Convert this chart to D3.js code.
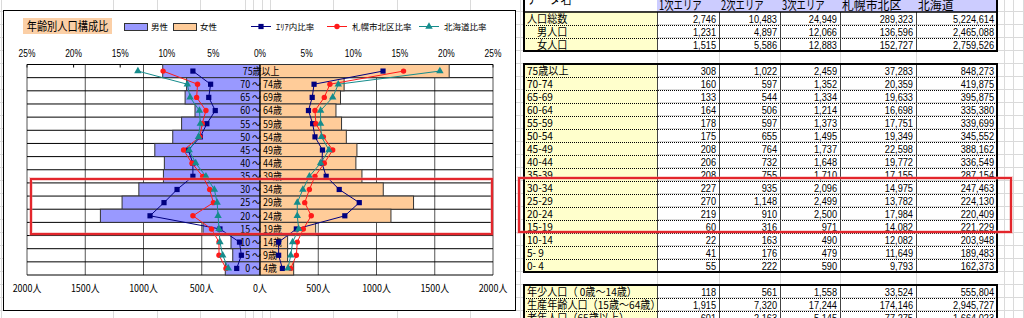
<!DOCTYPE html>
<html>
<head>
<meta charset="utf-8">
<script src="https://cdn.jsdelivr.net/npm/d3@7"></script>
<style>
    html, body { margin: 0; padding: 0; background: #fff; }
    svg { display: block; }
</style>
</head>
<body>
<svg id="sheet" width="1024" height="318"></svg>
<script>
// chart data (3次エリア counts, share of each sex in %)
const ageGroups = ['75歳以上', '70 ～ 74歳', '65 ～ 69歳', '60 ～ 64歳', '55 ～ 59歳', '50 ～ 54歳', '45 ～ 49歳',
    '40 ～ 44歳', '35 ～ 39歳', '30 ～ 34歳', '25 ～ 29歳', '20 ～ 24歳', '15 ～ 19歳', '10 ～ 14歳', '5 ～ 9歳', '0 ～ 4歳'];
const maleCount = [835, 630, 643, 558, 673, 749, 903, 821, 829, 1040, 1184, 1370, 489, 249, 234, 298];
const femaleCount = [1624, 722, 691, 652, 700, 741, 832, 823, 875, 1058, 1318, 1124, 478, 237, 237, 289];
const areaMale = [7.2, 5.3, 5.5, 4.8, 5.7, 6.4, 7.7, 7.2, 7.2, 8.9, 10.3, 11.8, 4.3, 2.2, 2.0, 2.5];
const areaFemale = [13.2, 5.8, 5.6, 5.2, 5.65, 5.9, 6.7, 6.65, 7.1, 8.5, 10.65, 9.1, 3.9, 2.0, 2.0, 2.4];
const kitaMale = [10.4, 6.7, 6.8, 5.8, 6.2, 6.45, 8.2, 7.3, 6.15, 5.4, 5.0, 7.2, 5.2, 4.4, 4.4, 3.65];
const kitaFemale = [15.4, 7.5, 6.9, 5.9, 6.0, 6.8, 7.8, 6.9, 5.9, 5.3, 4.8, 5.5, 4.65, 4.0, 3.9, 3.3];
const hokkaidoMale = [13.1, 7.8, 7.5, 6.5, 6.4, 6.6, 7.6, 6.9, 5.8, 4.9, 4.6, 4.5, 4.4, 4.3, 4.0, 3.4];
const hokkaidoFemale = [19.3, 8.4, 7.8, 6.5, 6.5, 6.6, 7.4, 6.5, 5.3, 4.6, 4.0, 4.0, 4.15, 3.5, 3.3, 3.0];
const pctTicks = [-25, -20, -15, -10, -5, 0, 5, 10, 15, 20, 25];
const countTicks = [-2000, -1500, -1000, -500, 0, 500, 1000, 1500, 2000];

// table data
const tableHeaders = ['データ名', '1次エリア', '2次エリア', '3次エリア', '札幌市北区', '北海道'];
const totalLabels = ['人口総数', '　男人口', '　女人口'];
const ageLabels = ['75歳以上', '70-74', '65-69', '60-64', '55-59', '50-54', '45-49', '40-44', '35-39',
    '30-34', '25-29', '20-24', '15-19', '10-14', ' 5- 9', ' 0- 4'];
const groupLabels = ['年少人口（ 0歳～14歳）', '生産年齢人口（15歳～64歳）', '老年人口（65歳以上）'];
const area1 = [2746, 1231, 1515, 308, 160, 133, 164, 178, 175, 208, 206, 208, 227, 270, 219, 60, 22, 41, 55, 118, 1915, 601];
const area2 = [10483, 4897, 5586, 1022, 597, 544, 506, 597, 655, 764, 732, 755, 935, 1148, 910, 316, 163, 176, 222, 561, 7320, 2163];
const area3 = [24949, 12066, 12883, 2459, 1352, 1334, 1214, 1373, 1495, 1737, 1648, 1710, 2096, 2499, 2500, 971, 490, 479, 590, 1558, 17244, 5145];
const kitaWard = [289323, 136596, 152727, 37283, 20359, 19633, 16698, 17751, 19349, 22598, 19772, 17155, 14975, 13782, 17984, 14082, 12082, 11649, 9793, 33524, 174146, 77275];
const hokkaido = [5224614, 2465088, 2759526, 848273, 419875, 395875, 335380, 339699, 345552, 388162, 336549, 287154, 247463, 224130, 220409, 221229, 203948, 189483, 162373, 555804, 2945727, 1664023];

const svg = d3.select('#sheet');
const jp = '"Noto Sans CJK JP", sans-serif';
const num = '"Liberation Sans", Arial, sans-serif';

(function init() {
    drawSheetGrid();
    drawChart();
    drawTable();
})();

function txt(g, x, y, str, size, family, anchor, sx) {
    return g.append('text')
        .attr('transform', `translate(${x},${y}) scale(${sx || 1},1)`)
        .attr('font-size', size)
        .attr('font-family', family)
        .attr('text-anchor', anchor || 'start')
        .attr('fill', '#000')
        .text(str);
}

function drawSheetGrid() {
    const g = svg.append('g').attr('stroke', '#dadada').attr('stroke-width', 1);
    const cols = [1, 113, 157, 200, 245, 253, 262, 270, 333, 397, 470, 520, 657, 719, 780, 840, 916, 1004, 1013, 1023];
    cols.forEach(c => g.append('line').attr('x1', c + 0.5).attr('x2', c + 0.5).attr('y1', 0).attr('y2', 318));
    d3.range(0, 26).forEach(k => g.append('line').attr('x1', 0).attr('x2', 1024)
        .attr('y1', -1.5 + 13 * k).attr('y2', -1.5 + 13 * k));
}

function drawChart() {
    const g = svg.append('g');
    g.append('rect').attr('x', 3.5).attr('y', 10.5).attr('width', 512).attr('height', 300)
        .attr('fill', '#fff').attr('stroke', '#000');

    // title + legend
    g.append('rect').attr('x', 23).attr('y', 18).attr('width', 89).attr('height', 16).attr('fill', '#fbcfa6');
    txt(g, 67.5, 30.5, '年齢別人口構成比', 12, jp, 'middle', 0.85);
    g.append('rect').attr('x', 124.5).attr('y', 23.5).attr('width', 23).attr('height', 7)
        .attr('fill', '#9999ff').attr('stroke', '#333');
    txt(g, 151, 30, '男性', 8.5, jp);
    g.append('rect').attr('x', 173.5).attr('y', 23.5).attr('width', 23).attr('height', 7)
        .attr('fill', '#ffcc99').attr('stroke', '#333');
    txt(g, 200, 30, '女性', 8.5, jp);

    const x = d3.scaleLinear().domain([-2000, 2000]).range([27, 493]);
    const xp = d3.scaleLinear().domain([-25, 25]).range([27, 493]);
    const y = d3.scaleBand().domain(ageGroups).range([64.5, 275]).padding(0);
    const cy = d => y(d) + y.bandwidth() / 2;

    const series = [
        {name: 'ｴﾘｱ内比率', male: areaMale, female: areaFemale, color: '#000080', shape: 'square', lx: 251},
        {name: '札幌市北区比率', male: kitaMale, female: kitaFemale, color: '#ff1a1a', shape: 'circle', lx: 327},
        {name: '北海道比率', male: hokkaidoMale, female: hokkaidoFemale, color: '#158c8c', shape: 'triangle', lx: 419}
    ];

    series.forEach(s => {
        g.append('line').attr('x1', s.lx).attr('x2', s.lx + 20).attr('y1', 26.5).attr('y2', 26.5)
            .attr('stroke', s.color);
        marker(g, s.lx + 10, 26.5, s);
        txt(g, s.lx + 25, 30, s.name, 8.5, jp);
    });

    // axes labels
    pctTicks.forEach(t => {
        txt(g, xp(t), 57, Math.abs(t) + '%', 10.5, num, 'middle', 0.8);
        g.append('line').attr('x1', xp(t)).attr('x2', xp(t)).attr('y1', 64.5).attr('y2', 67.5)
            .attr('stroke', '#000');
    });
    countTicks.forEach(t => txt(g, x(t), 292, Math.abs(t) + '人', 10.5, jp, 'middle', 0.85));

    // grid
    countTicks.forEach(t => g.append('line').attr('x1', x(t)).attr('x2', x(t))
        .attr('y1', 64.5).attr('y2', 275).attr('stroke', '#555'));
    ageGroups.concat([null]).forEach((d, i) => {
        const yy = 64.5 + i * y.bandwidth();
        g.append('line').attr('x1', 27).attr('x2', 493).attr('y1', yy).attr('y2', yy).attr('stroke', '#000');
    });

    // bars
    g.selectAll('.male').data(ageGroups).join('rect')
        .attr('x', (d, i) => x(-maleCount[i])).attr('y', d => y(d))
        .attr('width', (d, i) => x(0) - x(-maleCount[i])).attr('height', y.bandwidth())
        .attr('fill', '#9999ff').attr('stroke', '#333');
    g.selectAll('.female').data(ageGroups).join('rect')
        .attr('x', x(0)).attr('y', d => y(d))
        .attr('width', (d, i) => x(femaleCount[i]) - x(0)).attr('height', y.bandwidth())
        .attr('fill', '#ffcc99').attr('stroke', '#333');
    g.append('line').attr('x1', x(0)).attr('x2', x(0)).attr('y1', 64.5).attr('y2', 275).attr('stroke', '#000');

    ageGroups.forEach(d => txt(g, x(0) + 1, cy(d) + 3.8, d, 10.5, jp, 'middle', 0.85));

    // ratio lines
    series.forEach(s => {
        ['male', 'female'].forEach(side => {
            const sign = side === 'male' ? -1 : 1;
            const line = d3.line().x((v) => xp(sign * v)).y((v, i) => cy(ageGroups[i]));
            g.append('path').attr('d', line(s[side])).attr('fill', 'none').attr('stroke', s.color).attr('stroke-width', 1);
            s[side].forEach((v, i) => marker(g, xp(sign * v), cy(ageGroups[i]), s));
        });
    });

    // red highlight
    highlight(31, 179, 461, 55);
}

function marker(g, mx, my, s) {
    if (s.shape === 'square') {
        g.append('rect').attr('x', mx - 2.6).attr('y', my - 2.6).attr('width', 5.2).attr('height', 5.2).attr('fill', s.color);
    } else if (s.shape === 'circle') {
        g.append('circle').attr('cx', mx).attr('cy', my).attr('r', 2.7).attr('fill', s.color);
    } else {
        g.append('path').attr('d', d3.symbol(d3.symbolTriangle, 24)()).attr('transform', `translate(${mx},${my})`)
            .attr('fill', s.color);
    }
}

function highlight(hx, hy, w, h) {
    svg.append('rect').attr('x', hx).attr('y', hy).attr('width', w).attr('height', h)
        .attr('fill', 'none').attr('stroke', '#f08080').attr('stroke-width', 4).attr('opacity', 0.35);
    svg.append('rect').attr('x', hx).attr('y', hy).attr('width', w).attr('height', h)
        .attr('fill', 'none').attr('stroke', '#e3262c').attr('stroke-width', 2);
}

function drawTable() {
    const g = svg.append('g');
    const cols = [524, 657, 719, 780, 840, 916, 997];
    const rowTop = r => -1 + 13 * r;
    const columns = [area1, area2, area3, kitaWard, hokkaido];

    // header
    g.append('rect').attr('x', cols[1]).attr('y', rowTop(0)).attr('width', cols[6] - cols[1]).attr('height', 13)
        .attr('fill', '#ccccff');
    txt(g, cols[0] + 3, 4, tableHeaders[0], 12, jp, 'start', 0.93);
    tableHeaders.slice(1).forEach((h, i) => txt(g, cols[i + 1] + 2, 9.5, h, 12.5, jp, 'start', i < 3 ? 0.75 : 0.95));

    const sections = [
        {start: 1, labels: totalLabels, offset: 0},
        {start: 5, labels: ageLabels, offset: 3},
        {start: 22, labels: groupLabels, offset: 19}
    ];

    sections.forEach(sec => {
        const top = rowTop(sec.start);
        const h = sec.labels.length * 13;
        g.append('rect').attr('x', cols[0]).attr('y', top).attr('width', cols[1] - cols[0]).attr('height', h)
            .attr('fill', '#ffffcc');
        d3.range(1, sec.labels.length).forEach(k => g.append('line')
            .attr('x1', cols[0]).attr('x2', cols[6]).attr('y1', top + 13 * k + 0.5).attr('y2', top + 13 * k + 0.5)
            .attr('stroke', '#000').attr('stroke-dasharray', '1,1'));
        cols.slice(1, 6).forEach(c => g.append('line').attr('x1', c + 0.5).attr('x2', c + 0.5)
            .attr('y1', top).attr('y2', top + h).attr('stroke', '#444'));
        sec.labels.forEach((l, k) => {
            const base = top + 13 * k + 10.8;
            txt(g, cols[0] + 3, base, l, 11, jp, 'start', 0.92);
            columns.forEach((col, c) => txt(g, cols[c + 2] - 3, base, d3.format(',')(col[sec.offset + k]),
                11.5, num, 'end', 0.8));
        });
        const borderTop = sec.start === 1 ? rowTop(0) : top;
        g.append('rect').attr('x', cols[0]).attr('y', borderTop).attr('width', cols[6] - cols[0])
            .attr('height', top + h - borderTop).attr('fill', 'none').attr('stroke', '#000').attr('stroke-width', 2);
    });
    g.append('line').attr('x1', cols[0]).attr('x2', cols[6]).attr('y1', rowTop(1)).attr('y2', rowTop(1))
        .attr('stroke', '#000').attr('stroke-width', 1.5);

    highlight(519, 178, 492, 54);
}
</script>
</body>
</html>
